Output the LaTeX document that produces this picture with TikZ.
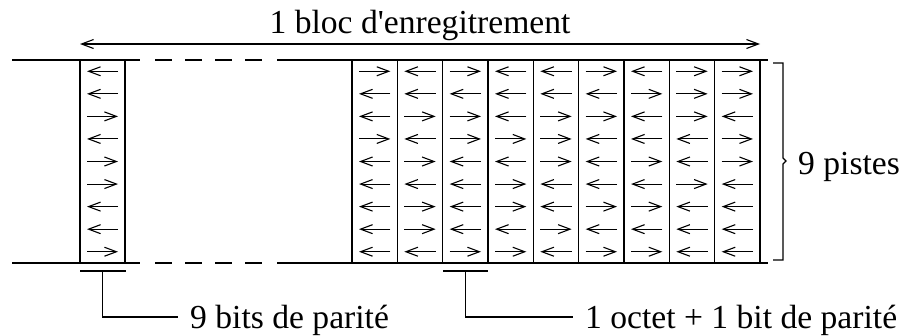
\documentclass[tikz,border=0pt]{standalone}
\usepackage{fontspec}
\setmainfont{Liberation Serif}
\usetikzlibrary{arrows.meta,calc}
\begin{document}
\begin{tikzpicture}[x=1pt,y=-1pt,
  rule/.style={line width=1.1pt},
  barb/.tip={Straight Barb[length=12pt,width=9pt]},
  bit/.style={line width=1.1pt,-barb},
  span/.style={line width=1.1pt,barb-barb},
  lab/.style={inner sep=0pt,font=\fontsize{33.6}{40}\selectfont}]
\useasboundingbox (0,0) rectangle (904,335);

% tape edges: solid, gap shown dashed, solid
\foreach \y in {60,263} {
  \draw[rule] (12,\y) -- (140,\y);
  \draw[rule,dash pattern=on 17pt off 13pt] (155,\y) -- (262,\y);
  \draw[rule] (277,\y) -- (768,\y);
}

% parity column on the left
\draw[rule] (80,60) -- (80,263);
\draw[rule] (125,60) -- (125,263);
\foreach \d [count=\r from 0] in {0,0,1,0,1,1,0,0,1} {
  \pgfmathsetmacro\yy{60+(\r+0.5)*203/9}
  \ifnum\d=1 \draw[bit] (87,\yy) -- (118,\yy); \else \draw[bit] (118,\yy) -- (87,\yy); \fi
}

% block of nine frames
\foreach \i in {0,...,9} {
  \draw[rule] ({352+\i*408/9},60) -- ({352+\i*408/9},263);
}
\foreach \row [count=\r from 0] in {
  {1,0,1,0,0,1,0,1,1},
  {0,0,0,0,0,0,1,1,1},
  {0,1,1,0,1,1,0,1,0},
  {1,0,1,1,1,0,0,0,1},
  {0,1,0,0,1,0,1,0,1},
  {0,0,0,1,0,0,0,1,0},
  {0,1,0,1,0,1,1,0,0},
  {0,1,0,0,1,0,0,0,0},
  {0,0,1,1,0,1,1,0,0}} {
  \foreach \d [count=\c from 0] in \row {
    \pgfmathsetmacro\xl{352+\c*408/9+7}
    \pgfmathsetmacro\xr{352+(\c+1)*408/9-7}
    \pgfmathsetmacro\yy{60+(\r+0.5)*203/9}
    \ifnum\d=1 \draw[bit] (\xl,\yy) -- (\xr,\yy); \else \draw[bit] (\xr,\yy) -- (\xl,\yy); \fi
  }
}

% block length
\coordinate (spanL) at (80,44);
\coordinate (spanR) at (760,44);
\draw[span] (spanL) -- (spanR);
\node[lab,anchor=base] (title) at (420,33) {1 bloc d\textquotesingle enregitrement};

% track bracket
\node[lab,anchor=base west] (tracks) at (798,174) {9 pistes};
\draw[rule] (773,63) -- (783,63) -- (783,158) -- (786,161) -- (783,164) -- (783,260) -- (773,260);

% parity label
\coordinate (parL) at (80,271);
\coordinate (parR) at (125.5,271);
\coordinate (parM) at (102.5,271);
\draw[rule] (parL) -- (parR);
\node[lab,anchor=base west] (parity) at (190,328) {9 bits de parité};
\draw[rule] (parM) |- ($(parity.base west)+(-12,-11)$);

% byte label
\coordinate (octL) at (443,271);
\coordinate (octR) at (488,271);
\coordinate (octM) at (465.5,271);
\draw[rule] (octL) -- (octR);
\node[lab,anchor=base west] (byte) at (585,328) {1 octet + 1 bit de parité};
\draw[rule] (octM) |- ($(byte.base west)+(-12,-11)$);
\end{tikzpicture}
\end{document}
